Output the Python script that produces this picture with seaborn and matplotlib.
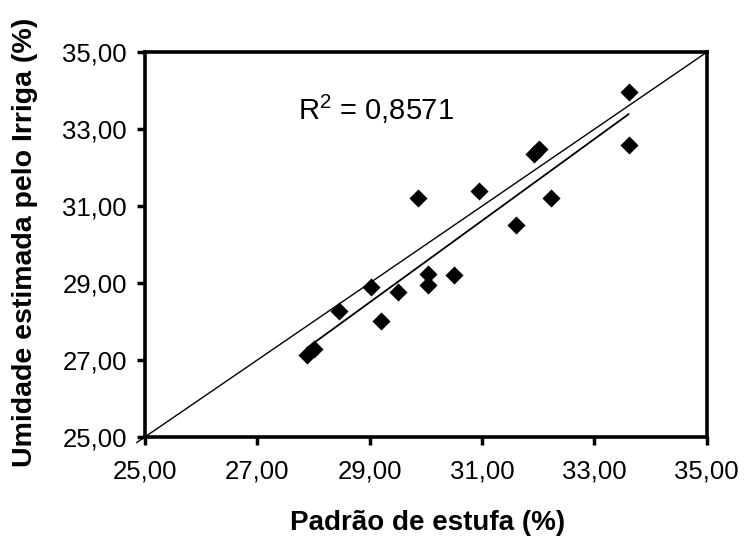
import matplotlib
matplotlib.use("Agg")
import matplotlib.pyplot as plt
import numpy as np
import pandas as pd
import seaborn as sns

# values
padrao_estufa = [27.88, 28.00, 28.46, 29.03, 29.20, 29.51, 29.85, 30.03, 30.03,
                 30.50, 30.94, 31.60, 31.92, 32.02, 32.22, 33.61, 33.61]
irriga = [27.12, 27.29, 28.26, 28.90, 28.00, 28.77, 31.21, 29.24, 28.94,
          29.22, 31.39, 30.50, 32.35, 32.48, 31.21, 33.96, 32.60]
tick_values = [25, 27, 29, 31, 33, 35]
tick_labels = ["25,00", "27,00", "29,00", "31,00", "33,00", "35,00"]
r2_text = "R$^2$ = 0,8571"

df = pd.DataFrame({"padrao": padrao_estufa, "irriga": irriga})

sns.set_style("white", {"text.color": "black", "axes.labelcolor": "black",
                        "xtick.color": "black", "ytick.color": "black"})
plt.rcParams["font.family"] = ["Liberation Sans", "DejaVu Sans"]
plt.rcParams["mathtext.fontset"] = "custom"
plt.rcParams["mathtext.rm"] = "Liberation Sans"

fig = plt.figure(figsize=(7.44, 5.38), dpi=100)
ax = fig.add_axes([0.195, 0.188, 0.755, 0.715])

# 1:1 line
ax.plot([24.85, 35], [24.85, 35], color="black", lw=1.0, clip_on=False, zorder=1)

sns.regplot(data=df, x="padrao", y="irriga", ax=ax, ci=None, truncate=True,
            marker="D", color="black",
            scatter_kws={"s": 85, "zorder": 3, "linewidths": 0, "alpha": 1},
            line_kws={"lw": 1.3, "zorder": 2})

ax.set_xlim(25, 35)
ax.set_ylim(25, 35)
ax.set_xticks(tick_values)
ax.set_xticklabels(tick_labels)
ax.set_yticks(tick_values)
ax.set_yticklabels(tick_labels)
ax.tick_params(direction="out", length=6, width=2.5, labelsize=18.5, pad=7,
               bottom=True, left=True, top=False, right=False,
               colors="black", labelcolor="black")
ax.tick_params(axis="x", pad=10)
for sp in ax.spines.values():
    sp.set_linewidth(2.6)
    sp.set_color("black")

ax.text(27.72, 33.5, r2_text, fontsize=21, va="center", ha="left", color="black")

ax.set_xlabel("Padrão de estufa (%)", fontsize=20, fontweight="bold", color="black")
ax.set_ylabel("Umidade estimada pelo Irriga (%)", fontsize=20.5, fontweight="bold",
              color="black")
# label positions in axes coords (axes spans x 145..707, y 52..437 px)
ax.xaxis.set_label_coords(0.502, -0.19)
ax.yaxis.set_label_coords(-0.19, 0.505)

fig.savefig("out.png", dpi=100)
